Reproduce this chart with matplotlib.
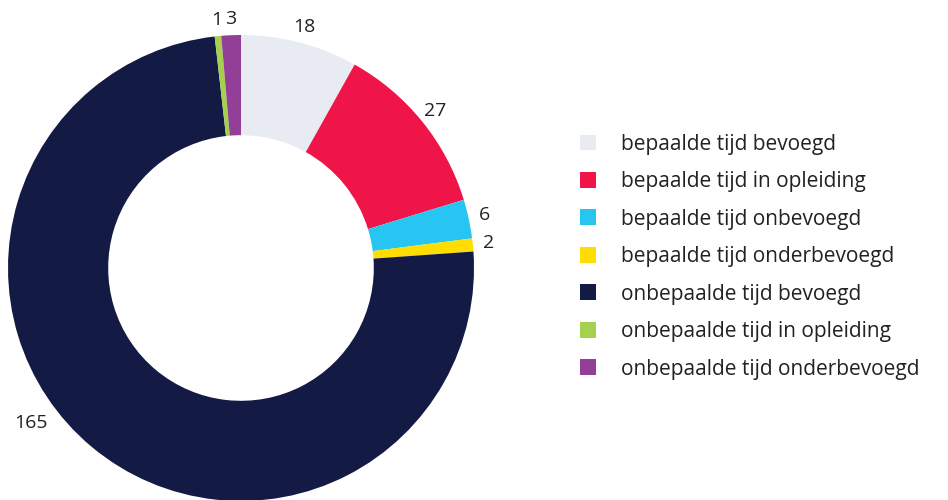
import numpy as np
import matplotlib
matplotlib.use("Agg")
import matplotlib.pyplot as plt
from matplotlib.patches import Patch

categories = [
    "bepaalde tijd bevoegd",
    "bepaalde tijd in opleiding",
    "bepaalde tijd onbevoegd",
    "bepaalde tijd onderbevoegd",
    "onbepaalde tijd bevoegd",
    "onbepaalde tijd in opleiding",
    "onbepaalde tijd onderbevoegd",
]
values = [18, 27, 6, 2, 165, 1, 3]
colors = ["#E8EBF1", "#F01549", "#27C6F2", "#FFDD00", "#131B45", "#A5D14F", "#943F97"]

plt.rcParams["font.family"] = ["Open Sans", "DejaVu Sans"]
text_color = "#222222"

fig = plt.figure(figsize=(9.48, 5.0), dpi=100)
W, H = 948, 500
cx, cy, r = 241, 232, 233
ax = fig.add_axes([(cx - r) / W, (cy - r) / H, 2 * r / W, 2 * r / H])

wedges, texts = ax.pie(values, colors=colors, startangle=90, counterclock=False,
                       radius=1.0, wedgeprops=dict(width=0.43, linewidth=0),
                       labels=[str(v) for v in values], labeldistance=1.07,
                       textprops=dict(fontsize=14, color=text_color))
ax.set_xlim(-1, 1)
ax.set_ylim(-1, 1)
ax.set_aspect("equal")
ax.axis("off")
for t in texts:
    t.set_ha("center")
    t.set_va("center")
    t.set_clip_on(False)
# the big slice's label sits further round, lower left
big = texts[4]
ang = np.deg2rad(-143.6)
big.set_position((1.12 * np.cos(ang), 1.12 * np.sin(ang)))

handles = [Patch(facecolor=c, edgecolor="none") for c in colors]
fig.legend(handles, categories, loc="upper left", bbox_to_anchor=(561 / W, 1 - 115 / H),
           frameon=False, fontsize=15, handlelength=0.8, handleheight=0.8,
           handletextpad=1.2, labelspacing=0.79, labelcolor=text_color)

fig.savefig("out.png", dpi=100, facecolor="white")
